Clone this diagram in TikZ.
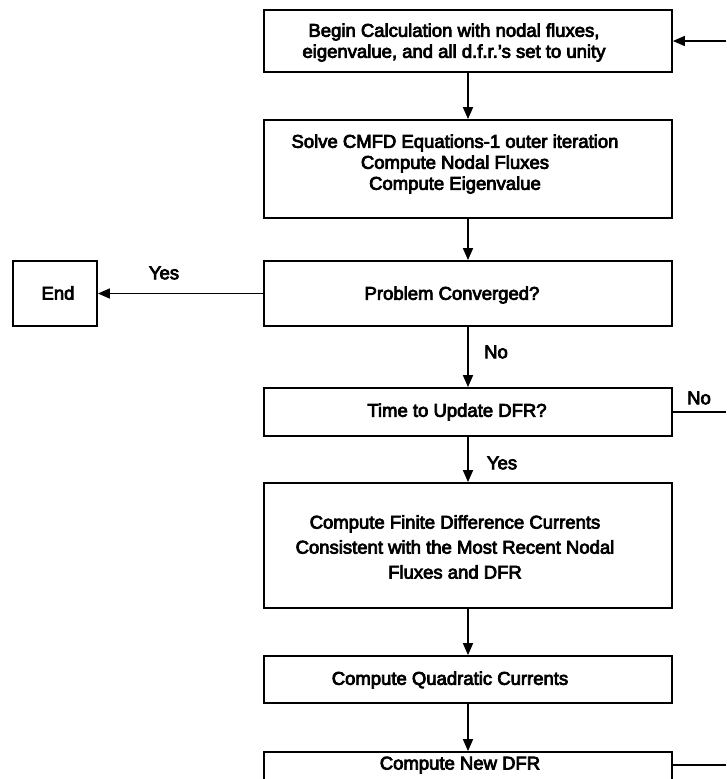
\documentclass[tikz,border=0pt]{standalone}
\usepackage{fontspec}
\setmainfont{Liberation Sans}[FakeBold=4]
\usetikzlibrary{arrows.meta}
\begin{document}
\begin{tikzpicture}[x=1pt,y=-1pt,
  box/.style={draw, line width=1.8pt, inner sep=0pt},
  txt/.style={align=center, font=\fontsize{18.5}{21}\selectfont, inner sep=0pt},
  lab/.style={font=\fontsize{18.5}{21}\selectfont, inner sep=0pt},
  conn/.style={line width=1.7pt},
  arr/.style={conn, -{Triangle[length=12pt,width=10pt]}}]
\useasboundingbox (0,0) rectangle (726,779);
\clip (0,0) rectangle (726,779);

% boxes
\node[box, minimum width=408pt, minimum height=62pt] (begin) at (468,41) {};
\node[box, minimum width=408pt, minimum height=98pt] (solve) at (468,169) {};
\node[box, minimum width=408pt, minimum height=65pt] (prob) at (468,293.5) {};
\node[box, minimum width=84pt, minimum height=65pt] (end) at (55,293.5) {};
\node[box, minimum width=408pt, minimum height=48pt] (time) at (468,412) {};
\node[box, minimum width=408pt, minimum height=125pt] (fdc) at (468,545.5) {};
\node[box, minimum width=408pt, minimum height=47pt] (quad) at (468,679.5) {};
\node[box, minimum width=408pt, minimum height=60pt] (ndfr) at (468,782) {};

% texts
\node[txt] (begin-t) at (454,42.5) {Begin Calculation with nodal fluxes,\\eigenvalue, and all d.f.r.'s set to unity};
\node[txt] (solve-t) at (455,164) {Solve CMFD Equations-1 outer iteration\\Compute Nodal Fluxes\\Compute Eigenvalue};
\node[txt] (prob-t) at (452,295) {Problem Converged?};
\node[txt] (end-t) at (58,293) {End};
\node[txt] (time-t) at (457,412) {Time to Update DFR?};
\node[txt] (fdc-t) at (455,547) {Compute Finite Difference Currents\\[4pt]Consistent with the Most Recent Nodal\\[4pt]Fluxes and DFR};
\node[txt] (quad-t) at (450,680) {Compute Quadratic Currents};
\node[txt] (ndfr-t) at (460,765) {Compute New DFR};

% connectors
\draw[arr] (begin) -- (solve);
\draw[arr] (solve) -- (prob);
\draw[arr] (prob) -- (end);
\draw[arr] (prob) -- (time);
\draw[arr] (time) -- (fdc);
\draw[arr] (fdc) -- (quad);
\draw[arr] (quad) -- (ndfr);

\coordinate (r1) at (726,41);
\coordinate (r2) at (726,412);
\coordinate (r3) at (726,765);
\draw[arr] (r1) -- (begin);
\draw[conn] (time.east) -- (r2);
\draw[conn] (ndfr.east |- r3) -- (r3);

% labels
\node[lab] (yes1) at (164,273) {Yes};
\node[lab] (no1) at (496,352) {No};
\node[lab] (no2) at (699,398) {No};
\node[lab] (yes2) at (502,463) {Yes};
\end{tikzpicture}
\end{document}
